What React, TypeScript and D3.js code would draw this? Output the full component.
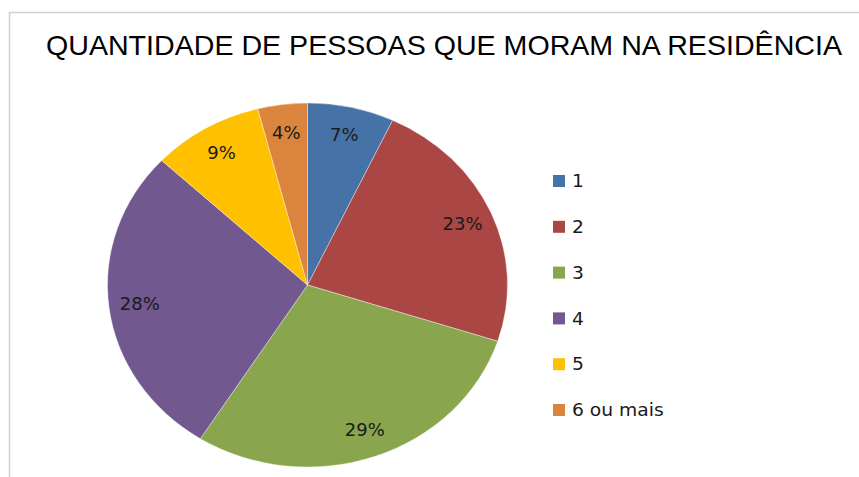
import React from "react";
import * as d3 from "d3";

const categories = ["1", "2", "3", "4", "5", "6 ou mais"];
const values = [7, 23, 29, 28, 9, 4];
const colors = ["#4572A7", "#AA4643", "#89A54E", "#71588F", "#FFC000", "#DB843D"];
const title = "QUANTIDADE DE PESSOAS QUE MORAM NA RESIDÊNCIA";

export default function App() {
  const W = 859;
  const H = 477;
  const cx = 307.5;
  const cy = 285;
  const rx = 200;
  const ry = 182;
  const yScale = ry / rx;

  const pie = d3.pie<number>().sort(null).value((d) => d)(values);
  const arc = d3.arc<d3.PieArcDatum<number>>().innerRadius(0).outerRadius(rx);
  const labelArc = d3
    .arc<d3.PieArcDatum<number>>()
    .innerRadius(rx * 0.845)
    .outerRadius(rx * 0.845);
  const total = d3.sum(values);
  const fmt = (v: number) => `${Math.round((v / total) * 100)}%`;

  const legendY = d3
    .scalePoint<string>()
    .domain(categories)
    .range([181, 410]);

  return (
    <svg
      width={W}
      height={H}
      style={{ position: "absolute", left: 0, top: 0, background: "#fff" }}
    >
      <rect x={0} y={0} width={W} height={H} fill="#fff" />
      <rect x={9.5} y={12.5} width={W + 20} height={H + 20} fill="#fff" stroke="#D0D0D0" strokeWidth={1.5} />
      <text
        x={46}
        y={55}
        fontFamily="Liberation Sans, Arial, sans-serif"
        fontSize={28}
        fill="#000"
        textLength={796}
        lengthAdjust="spacingAndGlyphs"
      >
        {title}
      </text>
      <g transform={`translate(${cx},${cy}) scale(1,${yScale})`}>
        {pie.map((p, i) => (
          <path
            key={i}
            d={arc(p) || ""}
            fill={colors[i]}
            stroke="#ffffff"
            strokeOpacity={0.5}
            strokeWidth={0.8}
          />
        ))}
      </g>
      {pie.map((p, i) => {
        const [lx, ly] = labelArc.centroid(p);
        return (
          <text
            key={i}
            transform={`translate(${cx + lx},${cy + ly * yScale}) scale(1.06,1)`}
            textAnchor="middle"
            dy="0.36em"
            fontFamily="DejaVu Sans, Verdana, sans-serif"
            fontSize={17}
            fill="#1a1a1a"
          >
            {fmt(p.data)}
          </text>
        );
      })}
      {categories.map((c, i) => {
        const y = legendY(c) as number;
        return (
          <g key={c}>
            <rect x={553} y={y - 6} width={12} height={12} fill={colors[i]} />
            <text
              transform={`translate(572,${y}) scale(1.1,1)`}
              dy="0.36em"
              fontFamily="DejaVu Sans, Verdana, sans-serif"
              fontSize={17}
              fill="#1a1a1a"
            >
              {c}
            </text>
          </g>
        );
      })}
    </svg>
  );
}
